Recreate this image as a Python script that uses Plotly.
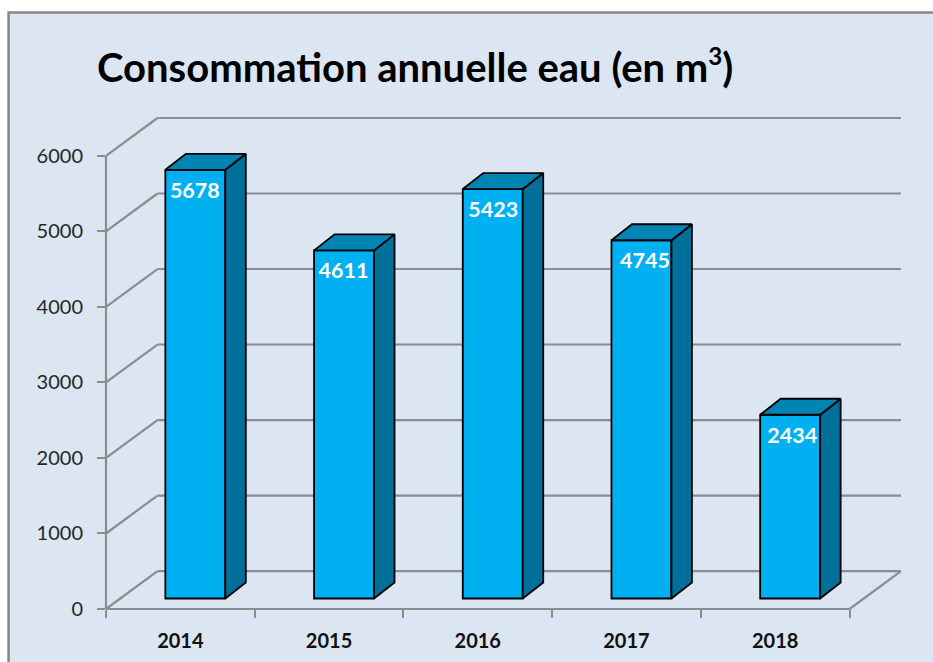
import plotly.graph_objects as go

years = ["2014", "2015", "2016", "2017", "2018"]
consumption = [5678, 4611, 5423, 4745, 2434]
y_ticks = [0, 1000, 2000, 3000, 4000, 5000, 6000]
title_text = 'Consommation annuelle eau (en m<sup><span style="font-size:24px">3</span></sup>)'

W, H = 933, 662
# pixel frame of the axes (front plane of the 3D box)
AX_L, AX_R, AX_B, AX_T = 105.5, 849.5, 609.0, 155.5
DEPTH_X, DEPTH_Y = 51.5, 38.0      # depth of the box, px
BAR_DX, BAR_DY = 20.5, 16.0        # depth of a bar, px
BAR_OFF_X, BAR_OFF_Y = 15.0, 10.5  # bar front relative to axis plane, px
BAR_W = 60.0
PLOT_R = AX_R + DEPTH_X
PLOT_T = AX_T - DEPTH_Y

ymax = y_ticks[-1]
ux = (AX_R - AX_L) / len(years)        # px per category
uy = (AX_B - AX_T) / ymax              # px per value unit
dx = lambda px: px / ux
dy = lambda px: px / uy

xs = list(range(len(years)))
grid_c = "#8c8c8c"
bg_c = "#dce6f2"
front_c, top_c, side_c = "#00b0f0", "#0084b4", "#006f9a"

fig = go.Figure()

# chart-area background and frame
fig.add_shape(type="rect", xref="paper", yref="paper", layer="below",
              x0=(8 - AX_L) / (PLOT_R - AX_L), x1=(W + 10 - AX_L) / (PLOT_R - AX_L),
              y0=(AX_B - H - 10) / (AX_B - PLOT_T), y1=(AX_B - 12) / (AX_B - PLOT_T),
              fillcolor=bg_c, line=dict(color="#868686", width=2.5))

x_left = -0.5
x_right = len(years) - 0.5
back_l, back_r = x_left + dx(DEPTH_X), x_right + dx(DEPTH_X)
back_dy = dy(DEPTH_Y)
y_top = ymax + back_dy
gline = dict(color=grid_c, width=2.2)

# axis-scale to plot-fraction conversion, so lines on the plot border are not clipped
fx = lambda x: (x - x_left) / (back_r - x_left)
fy = lambda y: y / y_top


def edge_line(x0, y0, x1, y1):
    fig.add_shape(type="line", layer="below", xref="paper", yref="paper",
                  x0=fx(x0), y0=fy(y0), x1=fx(x1), y1=fy(y1), line=gline)


for v in y_ticks:
    edge_line(x_left, v, back_l, v + back_dy)     # side-wall diagonal
    edge_line(back_l, v + back_dy, back_r, v + back_dy)  # back-wall line
edge_line(x_left, 0, x_left, ymax)
edge_line(x_left, 0, x_right, 0)
edge_line(x_right, 0, back_r, back_dy)

base = dy(BAR_OFF_Y)
cx = [i + dx(BAR_OFF_X) for i in xs]
bw = dx(BAR_W)

# front faces
fig.add_trace(go.Bar(x=cx, y=consumption, base=base, width=bw,
                     marker=dict(color=front_c, line=dict(color="#000000", width=1.8)),
                     hoverinfo="skip", showlegend=False))

edge = dict(color="#000000", width=1.8)
for c, v in zip(cx, consumption):
    l, r = c - bw / 2, c + bw / 2
    b, t = base, base + v
    ox, oy = dx(BAR_DX), dy(BAR_DY)
    # right side face
    fig.add_trace(go.Scatter(x=[r, r + ox, r + ox, r, r], y=[b, b + oy, t + oy, t, b],
                             mode="lines", fill="toself", fillcolor=side_c, line=edge,
                             hoverinfo="skip", showlegend=False))
    # top face
    fig.add_trace(go.Scatter(x=[l, l + ox, r + ox, r, l], y=[t, t + oy, t + oy, t, t],
                             mode="lines", fill="toself", fillcolor=top_c, line=edge,
                             hoverinfo="skip", showlegend=False))

# data labels, a fixed distance under the top of each bar (hand-placed in the original)
label_nudge_px = [-0.5, -0.5, 0.5, 3.5, 2]
fig.add_trace(go.Scatter(x=[c + dx(n) for c, n in zip(cx, label_nudge_px)],
                         y=[base + v - dy(22.5) for v in consumption],
                         text=[str(v) for v in consumption], mode="text",
                         textposition="middle center",
                         textfont=dict(family="Lato", size=21.5, color="#ffffff", weight="bold"),
                         hoverinfo="skip", showlegend=False))

fig.add_annotation(text=title_text, xref="paper", yref="paper",
                   x=(94 - AX_L) / (PLOT_R - AX_L), y=(AX_B - 65) / (AX_B - PLOT_T),
                   xanchor="left", yanchor="middle", showarrow=False,
                   font=dict(family="Lato", size=40, color="#000000", weight="bold"))

fig.update_layout(
    width=W, height=H,
    margin=dict(l=AX_L, r=W - PLOT_R, t=PLOT_T, b=H - AX_B, pad=0),
    paper_bgcolor="#ffffff", plot_bgcolor="rgba(0,0,0,0)",
    showlegend=False,
    xaxis=dict(range=[x_left, back_r], tickvals=xs, ticktext=years,
               showgrid=False, zeroline=False, showline=False, ticks="", automargin=False,
               ticklabelstandoff=18,
               tickfont=dict(family="Lato", size=20, color="#111111", weight="bold"),
               minor=dict(tickvals=[i - 0.5 for i in range(len(years) + 1)], ticks="outside",
                          ticklen=8, tickwidth=2, tickcolor=grid_c, showgrid=False)),
    yaxis=dict(range=[0, y_top], tickvals=y_ticks,
               showgrid=False, zeroline=False, showline=False, ticks="outside",
               ticklen=8, tickwidth=2, tickcolor=grid_c, automargin=False,
               ticklabelstandoff=10,
               tickfont=dict(family="Lato", size=20, color="#262626")),
)

fig.write_html("out.html", config={"displayModeBar": False},
               post_script="document.body.style.margin='0';document.body.style.overflow='hidden';")
